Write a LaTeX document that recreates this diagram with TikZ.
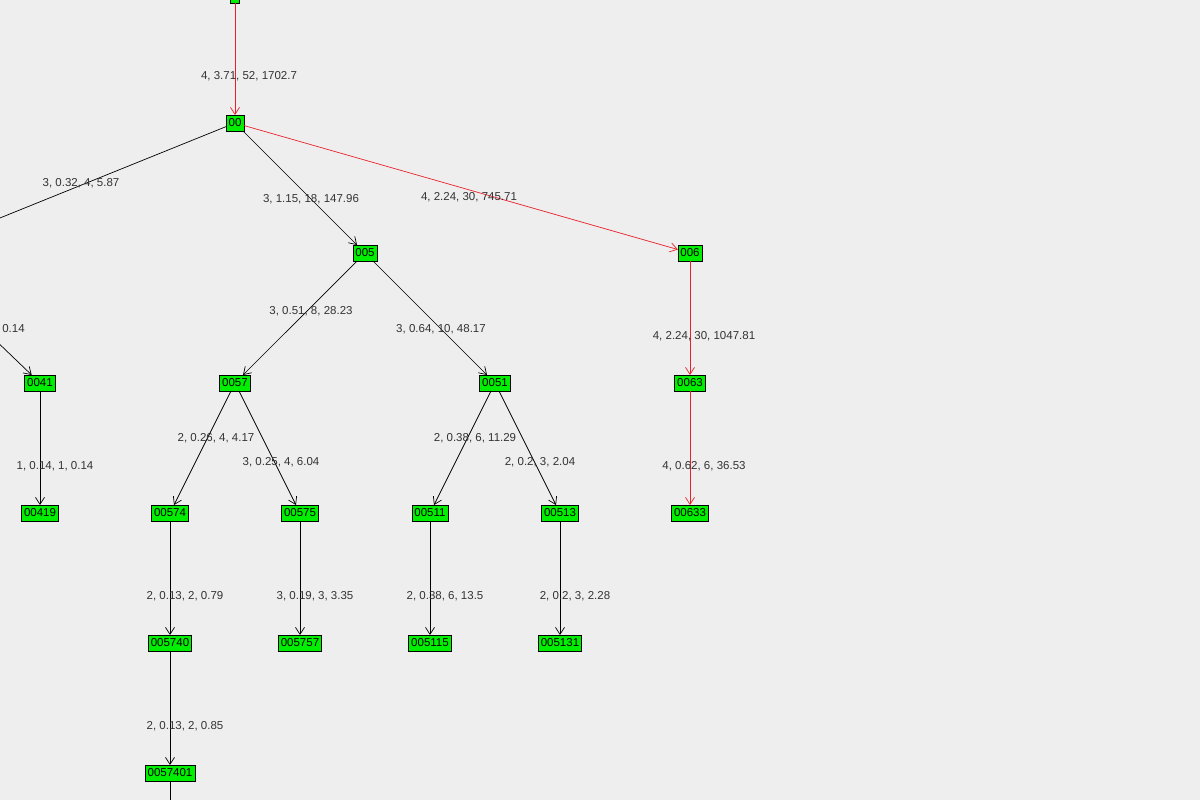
\documentclass[tikz,border=0pt]{standalone}
\usepackage{fontspec}
\setmainfont{Liberation Sans}
\usetikzlibrary{arrows.meta}
\definecolor{bgray}{HTML}{EEEEEE}
\definecolor{vgreen}{HTML}{00EE00}
\definecolor{lbl}{HTML}{333333}
\definecolor{hot}{HTML}{E8202A}
\begin{document}
\begin{tikzpicture}[x=1pt,y=-1pt,
  every node/.style={font=\fontsize{11.5}{13}\selectfont, outer sep=0pt},
  vert/.style={draw=black, fill=vgreen, inner xsep=2.5pt, inner ysep=1.5pt, minimum height=16pt, line width=0.7pt},
  lab/.style={text=lbl},
  edge/.style={-{Straight Barb[length=7pt,width=9pt]}, line width=0.7pt},
  hotedge/.style={edge, draw=hot}]
\clip (0,0) rectangle (1200,800);
\fill[bgray] (0,0) rectangle (1200,800);
% vertices
\node[vert, minimum width=9pt] (root) at (235,-5) {};
\node[vert] (n00) at (235,123) {00};
\node[vert] (n005) at (365,253) {005};
\node[vert] (n006) at (690,253) {006};
\node[vert] (n0041) at (40,383) {0041};
\node[vert] (n0057) at (235,383) {0057};
\node[vert] (n0051) at (495,383) {0051};
\node[vert] (n0063) at (690,383) {0063};
\node[vert] (n00419) at (40,513) {00419};
\node[vert] (n00574) at (170,513) {00574};
\node[vert] (n00575) at (300,513) {00575};
\node[vert] (n00511) at (430,513) {00511};
\node[vert] (n00513) at (560,513) {00513};
\node[vert] (n00633) at (690,513) {00633};
\node[vert] (n005740) at (170,643) {005740};
\node[vert] (n005757) at (300,643) {005757};
\node[vert] (n005115) at (430,643) {005115};
\node[vert] (n005131) at (560,643) {005131};
\node[vert] (n0057401) at (170,773) {0057401};
\coordinate (offA) at (-10,222);
\coordinate (offB) at (-10,335);
\coordinate (offC) at (170,810);
% edges
\draw[hotedge] (root) -- (n00);
\draw[hotedge] (n00) -- (n006);
\draw[hotedge] (n006) -- (n0063);
\draw[hotedge] (n0063) -- (n00633);
\draw[line width=0.7pt] (n00) -- (offA);
\draw[edge] (offB) -- (n0041);
\draw[edge] (n00) -- (n005);
\draw[edge] (n005) -- (n0057);
\draw[edge] (n005) -- (n0051);
\draw[edge] (n0041) -- (n00419);
\draw[edge] (n0057) -- (n00574);
\draw[edge] (n0057) -- (n00575);
\draw[edge] (n0051) -- (n00511);
\draw[edge] (n0051) -- (n00513);
\draw[edge] (n00574) -- (n005740);
\draw[edge] (n00575) -- (n005757);
\draw[edge] (n00511) -- (n005115);
\draw[edge] (n00513) -- (n005131);
\draw[edge] (n005740) -- (n0057401);
\draw[line width=0.7pt] (n0057401) -- (offC);
% labels
\node[lab] (l1) at (249,76) {4, 3.71, 52, 1702.7};
\node[lab] (l2) at (81,183) {3, 0.32, 4, 5.87};
\node[lab] (l3) at (311,199) {3, 1.15, 18, 147.96};
\node[lab] (l4) at (469,197) {4, 2.24, 30, 745.71};
\node[lab, anchor=east] (l5) at (28,329) {0.14};
\node[lab] (l6) at (311,311) {3, 0.51, 8, 28.23};
\node[lab] (l7) at (441,329) {3, 0.64, 10, 48.17};
\node[lab] (l8) at (704,336) {4, 2.24, 30, 1047.81};
\node[lab] (l9) at (216,438) {2, 0.26, 4, 4.17};
\node[lab] (l10) at (281,462) {3, 0.25, 4, 6.04};
\node[lab] (l11) at (475,438) {2, 0.38, 6, 11.29};
\node[lab] (l12) at (540,462) {2, 0.2, 3, 2.04};
\node[lab] (l13) at (704,466) {4, 0.62, 6, 36.53};
\node[lab] (l14) at (55,466) {1, 0.14, 1, 0.14};
\node[lab] (l15) at (185,596) {2, 0.13, 2, 0.79};
\node[lab] (l16) at (315,596) {3, 0.19, 3, 3.35};
\node[lab] (l17) at (445,596) {2, 0.38, 6, 13.5};
\node[lab] (l18) at (575,596) {2, 0.2, 3, 2.28};
\node[lab] (l19) at (185,726) {2, 0.13, 2, 0.85};
\end{tikzpicture}
\end{document}
